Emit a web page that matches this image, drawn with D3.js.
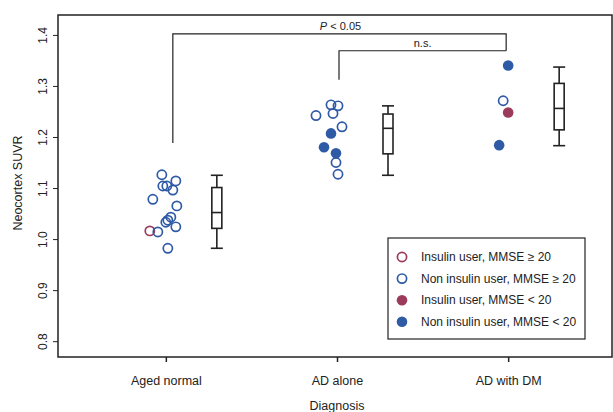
<!DOCTYPE html>
<html>
<head>
<meta charset="utf-8">
<script src="https://cdn.jsdelivr.net/npm/d3@7"></script>
<style>
  body { margin: 0; background: #fff; }
  text { font-family: "Liberation Sans", Arial, sans-serif; fill: #222; }
</style>
</head>
<body>
<div id="chart"></div>
<script>
// categories and values
var categories = ["Aged normal", "AD alone", "AD with DM"];

// SUVR values, marker type and horizontal jitter (px) per subject
var agedValues = [1.126, 1.114, 1.104, 1.104, 1.096, 1.078, 1.065, 1.043, 1.037, 1.033, 1.024, 1.016, 1.014, 0.982];
var agedTypes  = ["no", "no", "no", "no", "no", "no", "no", "no", "no", "no", "no", "io", "no", "no"];
var agedJitter = [-4, 10, -3, 1, 7, -13, 11, 5, 2, 0, 10, -16, -8, 2];

var adValues = [1.263, 1.261, 1.246, 1.242, 1.220, 1.207, 1.180, 1.168, 1.150, 1.127];
var adTypes  = ["no", "no", "no", "no", "no", "nf", "nf", "nf", "no", "no"];
var adJitter = [-6, 1, -4, -21, 5, -6, -13, -1, -1, 1];

var dmValues = [1.340, 1.271, 1.248, 1.184];
var dmTypes  = ["nf", "no", "if", "nf"];
var dmJitter = [0, -5, 0, -9];

// box stats: [low whisker, q1, median, q3, high whisker]
var boxStats = [
  [0.982, 1.021, 1.052, 1.101, 1.125],
  [1.125, 1.167, 1.217, 1.245, 1.261],
  [1.183, 1.214, 1.256, 1.305, 1.337]
];

var yTicks = [0.8, 0.9, 1.0, 1.1, 1.2, 1.3, 1.4];

var legendLabels = ["Insulin user, MMSE \u2265 20", "Non insulin user, MMSE \u2265 20", "Insulin user, MMSE < 20", "Non insulin user, MMSE < 20"];
var legendTypes = ["io", "no", "if", "nf"];

var blue = "#2f5aa6";
var red = "#9c3a5c";
var ink = "#222";

var width = 613, height = 412;
var frame = { left: 58, right: 612, top: 15, bottom: 357 };

var svg = d3.select("#chart")
  .append("svg")
  .attr("width", width)
  .attr("height", height);

var x = d3.scalePoint()
  .domain(categories)
  .range([frame.left, frame.right + 4])
  .padding(0.63);

var y = d3.scaleLinear()
  .domain([0.769, 1.439])
  .range([frame.bottom, frame.top]);

var boxOffset = 51;
var boxHalf = 5;

// frame
svg.append("rect")
  .attr("x", frame.left)
  .attr("y", frame.top)
  .attr("width", frame.right - frame.left)
  .attr("height", frame.bottom - frame.top)
  .style("fill", "none")
  .style("stroke", ink)
  .style("stroke-width", "1.5px");

// y axis
var yAxis = d3.axisLeft(y).tickValues(yTicks).tickSize(5).tickFormat(d3.format(".1f"));
var gy = svg.append("g")
  .attr("transform", "translate(" + frame.left + ",0)")
  .call(yAxis);
gy.select(".domain").remove();
gy.selectAll("line").style("stroke", ink).style("stroke-width", "1px");
gy.selectAll("text")
  .attr("x", 0).attr("y", 0).attr("dy", null)
  .attr("transform", "translate(-11,0) rotate(-90)")
  .attr("text-anchor", "middle")
  .attr("font-size", 12)
  .style("fill", ink);

// x axis
var xAxis = d3.axisBottom(x).tickSize(5).tickPadding(14);
var gx = svg.append("g")
  .attr("transform", "translate(0," + frame.bottom + ")")
  .call(xAxis);
gx.select(".domain").remove();
gx.selectAll("line").style("stroke", ink).style("stroke-width", "1.5px");
gx.selectAll("text").attr("font-size", 12.5).style("fill", ink);

// axis titles
svg.append("text")
  .attr("transform", "translate(22,183) rotate(-90)")
  .attr("text-anchor", "middle")
  .attr("font-size", 12.5)
  .text("Neocortex SUVR");

svg.append("text")
  .attr("x", x("AD alone"))
  .attr("y", 410)
  .attr("text-anchor", "middle")
  .attr("font-size", 12.5)
  .text("Diagnosis");

// points
function styleMarker(sel) {
  sel.style("fill", function(d) {
      if (d.type === "nf") return blue;
      if (d.type === "if") return red;
      return "none";
    })
    .style("stroke", function(d) {
      if (d.type === "io" || d.type === "if") return red;
      return blue;
    })
    .style("stroke-width", function(d) {
      return (d.type === "io" || d.type === "no") ? "1.7px" : "0px";
    })
    .attr("r", function(d) {
      return (d.type === "io" || d.type === "no") ? 4.6 : 5.3;
    });
}

var groups = [
  { cat: categories[0], values: agedValues, types: agedTypes, jitter: agedJitter },
  { cat: categories[1], values: adValues, types: adTypes, jitter: adJitter },
  { cat: categories[2], values: dmValues, types: dmTypes, jitter: dmJitter }
];

var points = [];
groups.forEach(function(g) {
  g.values.forEach(function(v, i) {
    points.push({ cat: g.cat, v: v, type: g.types[i], jit: g.jitter[i] });
  });
});

svg.selectAll("circle.pt")
  .data(points)
  .enter()
  .append("circle")
  .attr("class", "pt")
  .attr("cx", function(d) { return x(d.cat) + d.jit; })
  .attr("cy", function(d) { return y(d.v); })
  .call(styleMarker);

// box plots
var boxes = svg.selectAll("g.box")
  .data(boxStats)
  .enter()
  .append("g")
  .attr("class", "box")
  .attr("transform", function(d, i) { return "translate(" + (x(categories[i]) + boxOffset) + ",0)"; });

boxes.append("line")
  .attr("x1", 0).attr("x2", 0)
  .attr("y1", function(d) { return y(d[0]); })
  .attr("y2", function(d) { return y(d[4]); });

boxes.append("rect")
  .attr("x", -boxHalf)
  .attr("width", boxHalf * 2)
  .attr("y", function(d) { return y(d[3]); })
  .attr("height", function(d) { return y(d[1]) - y(d[3]); })
  .style("fill", "#fff");

boxes.append("line")
  .attr("x1", -boxHalf).attr("x2", boxHalf)
  .attr("y1", function(d) { return y(d[2]); })
  .attr("y2", function(d) { return y(d[2]); });

[0, 4].forEach(function(k) {
  boxes.append("line")
    .attr("x1", -boxHalf - 1).attr("x2", boxHalf + 1)
    .attr("y1", function(d) { return y(d[k]); })
    .attr("y2", function(d) { return y(d[k]); });
});

boxes.selectAll("line, rect")
  .style("stroke", ink)
  .style("stroke-width", "1.6px");

// significance brackets
var brackets = [
  { from: categories[0], fromOff: 7, to: categories[2], level: 1.402, legLow: 1.188, legHigh: 1.369 },
  { from: categories[1], fromOff: 2, to: categories[2], level: 1.369, legLow: 1.312, legHigh: 1.369 }
];

brackets.forEach(function(b) {
  var x1 = x(b.from) + b.fromOff, x2 = x(b.to) - 2;
  svg.append("path")
    .attr("d", "M" + x1 + "," + y(b.legLow) + "V" + y(b.level) + "H" + x2 + "V" + y(b.legHigh))
    .style("fill", "none")
    .style("stroke", ink)
    .style("stroke-width", "1.2px");
});

var pText = svg.append("text")
  .attr("x", (x(categories[0]) + 7 + x(categories[2])) / 2)
  .attr("y", y(1.402) - 4)
  .attr("text-anchor", "middle")
  .attr("font-size", 11);
pText.append("tspan").style("font-style", "italic").text("P");
pText.append("tspan").text(" < 0.05");

svg.append("text")
  .attr("x", (x(categories[1]) + x(categories[2])) / 2)
  .attr("y", y(1.369) - 4)
  .attr("text-anchor", "middle")
  .attr("font-size", 11)
  .text("n.s.");

// legend
var legend = svg.append("g").attr("transform", "translate(388,238)");
legend.append("rect")
  .attr("width", 197)
  .attr("height", 101)
  .style("fill", "#fff")
  .style("stroke", ink)
  .style("stroke-width", "1.2px");

var rows = legend.selectAll("g.row")
  .data(legendTypes)
  .enter()
  .append("g")
  .attr("class", "row")
  .attr("transform", function(d, i) { return "translate(0," + (19 + i * 21.6) + ")"; });

rows.append("circle")
  .attr("cx", 14)
  .attr("cy", 0)
  .datum(function(d) { return { type: d }; })
  .call(styleMarker);

rows.append("text")
  .attr("x", 33)
  .attr("y", 4)
  .attr("font-size", 12)
  .text(function(d, i) { return legendLabels[i]; });
</script>
</body>
</html>
